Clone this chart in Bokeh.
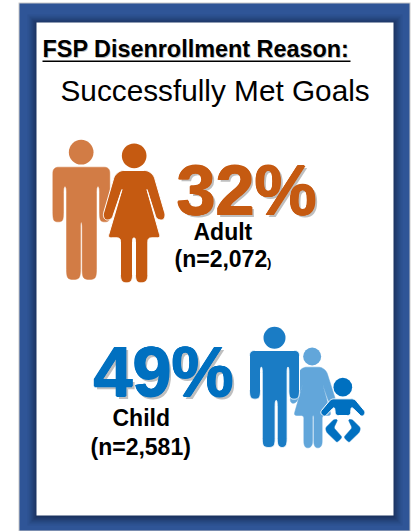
import math
from bokeh.plotting import figure
from bokeh.embed import file_html
from bokeh.resources import INLINE
from bokeh.core.properties import value

# Values and labels shown on the card
heading = "FSP Disenrollment  Reason:"
subheading = "Successfully Met Goals"
groups = ["Adult", "Child"]
shares = [32, 49]
counts = ["2,072", "2,581"]

FONT = value("Liberation Sans")
FRAME = "#2F5597"
ORANGE, ORANGE_LIGHT = "#C55A11", "#D27C45"
BLUE, BLUE_MID, BLUE_LIGHT = "#0070C0", "#1A7CC5", "#62A6DA"

p = figure(width=417, height=531, x_range=(0, 417), y_range=(531, 0),
           output_backend="svg", toolbar_location=None, min_border=0,
           outline_line_color=None, background_fill_color="white")
p.axis.visible = False
p.grid.visible = False


def rounded(points, radius):
    """Polygon outline with its corners cut by small arcs."""
    xs, ys = [], []
    n = len(points)
    for i, (x, y) in enumerate(points):
        px, py = points[i - 1]
        nx, ny = points[(i + 1) % n]
        d1 = math.hypot(px - x, py - y) or 1
        d2 = math.hypot(nx - x, ny - y) or 1
        r1, r2 = min(radius, d1 / 2), min(radius, d2 / 2)
        ax, ay = x + (px - x) * r1 / d1, y + (py - y) * r1 / d1
        bx, by = x + (nx - x) * r2 / d2, y + (ny - y) * r2 / d2
        for k in range(9):
            t = k / 8
            xs.append((1 - t) ** 2 * ax + 2 * t * (1 - t) * x + t * t * bx)
            ys.append((1 - t) ** 2 * ay + 2 * t * (1 - t) * y + t * t * by)
    return xs, ys


def pictogram(points, ox, oy, color, radius=3.0, halo=0.0):
    scaled = [(ox + x / 3, oy + y / 3) for x, y in points]
    xs, ys = rounded(scaled, radius)
    p.patch(xs, ys, fill_color=color, line_color="white" if halo else color,
            line_width=halo if halo else 0.5)


def head(x, y, r, ox, oy, color):
    p.circle([ox + x / 3], [oy + y / 3], radius=r / 3, fill_color=color, line_color=None)


def shaded_rect(x0, y0, x1, y1, color, alpha=1.0):
    p.quad(left=[x0], right=[x1], top=[y0], bottom=[y1],
           fill_color=color, fill_alpha=alpha, line_color=None)


def label(x, y, text, size, color="black", style="bold", shadow=0.0, thicken=0.0):
    # y is the wanted baseline; the svg text is placed about 0.39em below its anchor
    y = y - 0.39 * size
    font_size = f"{size}px"
    common = dict(text_font=FONT, text_font_size=font_size, text_font_style=style,
                  text_baseline="alphabetic", text_align="left")
    if shadow:
        p.text([x + shadow], [y + shadow], text=[text], text_color="#7f7f7f",
               text_alpha=0.5, **common)
    offsets = [(-thicken, 0), (thicken, 0), (0, -thicken), (0, thicken)] if thicken else []
    for dx, dy in offsets + [(0, 0)]:
        p.text([x + dx], [y + dy], text=[text], text_color=color, **common)


# Blue frame with a soft dark shadow falling around the white panel
shaded_rect(18, 2, 410, 531, "#c9c9c9")
shaded_rect(19, 3, 409, 530, FRAME)
for grow, alpha in [(9, 0.08), (7, 0.12), (5, 0.16), (3, 0.22), (1, 0.28)]:
    shaded_rect(36 - grow, 22 - grow + 1, 393 + grow, 515 + grow + 1, "#10203f", alpha)
shaded_rect(36, 22, 393, 515, "white")

# Heading block
label(42, 57.5, heading, 23.4, shadow=0.8)
p.segment([42], [60.8], [350], [60.8], line_color="black", line_width=1.6)
label(60, 102, subheading, 29.75, style="normal")

# Adult pictogram: man behind, woman in front
OX, OY = 40, 130
man_adult = [(37, 110), (208, 110), (208, 262), (204, 274), (182, 274), (177, 262), (177, 168),
             (168, 168), (168, 435), (160, 447), (133, 447), (125, 435), (125, 275), (120, 275),
             (120, 435), (112, 447), (85, 447), (78, 435), (78, 168), (69, 168), (69, 262),
             (64, 274), (42, 274), (37, 262)]
woman_adult = [(240, 120), (322, 120), (340, 135), (375, 255), (368, 270), (348, 266), (318, 172),
               (360, 322), (322, 322), (322, 445), (312, 457), (292, 457), (285, 445), (285, 322),
               (276, 322), (276, 445), (268, 457), (248, 457), (240, 445), (240, 322), (202, 322),
               (246, 172), (214, 266), (195, 270), (187, 255), (222, 135)]
head(122, 65, 37, OX, OY, ORANGE_LIGHT)
pictogram(man_adult, OX, OY, ORANGE_LIGHT, radius=6)
head(281, 76, 37, OX, OY, ORANGE)
pictogram(woman_adult, OX, OY, ORANGE, radius=3.5, halo=1.0)

label(176, 217.5, f"{shares[0]}%", 70, ORANGE, shadow=2.4, thicken=0.7)
label(193, 240, groups[0], 23)
label(174, 267, f"(n={counts[0]}", 23)
label(266.5, 267, ")", 13)

# Child pictogram: man, woman and baby
OX, OY = 80, 320
man_child = [(507, 90), (657, 90), (657, 225), (650, 236), (632, 236), (625, 225), (625, 140),
             (620, 140), (620, 370), (612, 381), (598, 381), (590, 370), (590, 240), (584, 240),
             (584, 370), (576, 381), (553, 381), (545, 370), (545, 140), (540, 140), (540, 225),
             (533, 236), (514, 236), (507, 225)]
woman_child = [(670, 140), (722, 140), (738, 152), (766, 240), (758, 250), (745, 245), (726, 190),
               (752, 285), (725, 285), (725, 372), (718, 382), (706, 382), (700, 372), (700, 285),
               (696, 285), (696, 372), (688, 382), (676, 382), (670, 372), (670, 285), (640, 285),
               (667, 190), (649, 245), (635, 250), (628, 240), (655, 152)]
baby_body = [(752, 235), (822, 235), (856, 276), (845, 290), (812, 258), (810, 285), (765, 285),
             (762, 258), (732, 290), (718, 276)]
diaper_left = [(735, 322), (760, 297), (772, 297), (760, 322), (785, 350), (770, 366), (738, 335)]
diaper_right = [(840, 322), (815, 297), (803, 297), (815, 322), (790, 350), (805, 366), (837, 335)]

head(695, 108, 27, OX, OY, BLUE_LIGHT)
pictogram(woman_child, OX, OY, BLUE_LIGHT, radius=3)
head(582, 52, 33, OX, OY, BLUE_MID)
pictogram(man_child, OX, OY, BLUE_MID, radius=5, halo=1.0)
head(787, 200, 28, OX, OY, BLUE)
pictogram(baby_body, OX, OY, BLUE, radius=3, halo=1.0)
pictogram(diaper_left, OX, OY, BLUE, radius=2)
pictogram(diaper_right, OX, OY, BLUE, radius=2)

label(93, 399, f"{shares[1]}%", 70, BLUE, shadow=2.4, thicken=0.7)
label(112, 426, groups[1], 23)
label(90, 455, f"(n={counts[1]})", 23)

open("out.html", "w").write(file_html(p, INLINE))
